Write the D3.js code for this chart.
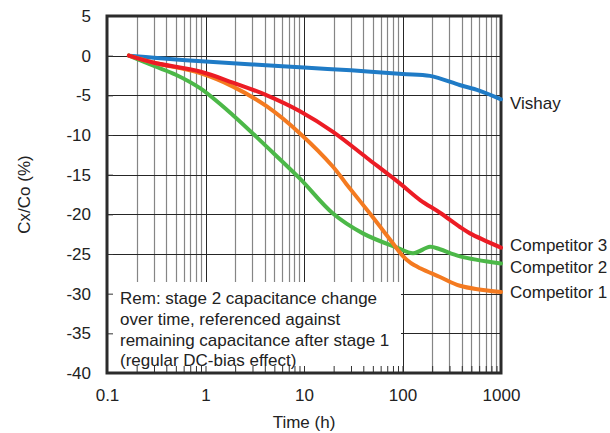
<!DOCTYPE html>
<html>
<head>
  <meta charset="utf-8">
  <title>Capacitance change over time</title>
  <script src="https://d3js.org/d3.v7.min.js"></script>
  <style>
    body { margin: 0; background: #fff; }
    text {
      font-family: "Liberation Sans", Arial, sans-serif;
      font-size: 17px;
      fill: #222;
    }
    .grid-minor { stroke: #858585; stroke-width: 1.2px; }
    .grid-major { stroke: #262626; stroke-width: 1px; }
    .series { fill: none; stroke-width: 4px; stroke-linejoin: round; stroke-linecap: round; }
  </style>
</head>
<body>
  <svg width="610" height="433"></svg>

  <script>
    // series data: [hours, Cx/Co %]
    const vishay = [[0.167, 0], [0.3, -0.25], [1, -0.75], [3, -1.1], [10, -1.5], [30, -1.85],
      [100, -2.3], [190, -2.55], [380, -3.7], [600, -4.4], [1000, -5.5]];
    const competitor3 = [[0.167, 0], [0.3, -0.9], [0.88, -2.0], [1.9, -3.4], [4.2, -5.0], [9.1, -7.0],
      [19.7, -9.6], [43.6, -12.9], [94, -16.1], [151, -18.2], [240, -19.8], [383, -21.6],
      [484, -22.4], [1000, -24.2]];
    const competitor2 = [[0.167, 0], [0.3, -1.3], [0.5, -2.4], [0.88, -4.1], [1.9, -7.5], [4.2, -11.5],
      [9.1, -15.5], [19.7, -19.9], [39.6, -22.4], [88, -24.2], [128, -24.9], [190, -24.1],
      [240, -24.4], [383, -25.3], [1000, -26.2]];
    const competitor1 = [[0.167, 0], [0.3, -0.9], [0.88, -2.2], [1.9, -3.9], [4.2, -6.4], [9.1, -9.8],
      [19.7, -14.0], [27, -16.2], [46.7, -19.9], [75, -23.2], [100, -25.2], [120, -26.1],
      [151, -26.8], [240, -27.9], [383, -29.0], [1000, -29.8]];

    const seriesNames = ["Vishay", "Competitor 2", "Competitor 1", "Competitor 3"];
    const seriesData = [vishay, competitor2, competitor1, competitor3];
    const seriesColors = ["#1f7bc6", "#4cb848", "#f47a20", "#ec1c24"];
    const labelValues = [-6, -26.6, -29.8, -23.9];

    const xTicks = [0.1, 1, 10, 100, 1000];
    const yTicks = [5, 0, -5, -10, -15, -20, -25, -30, -35, -40];
    const noteLines = [
      "Rem: stage 2 capacitance change",
      "over time, referenced against",
      "remaining capacitance after stage 1",
      "(regular DC-bias effect)"
    ];

    const margin = { left: 107, right: 109, top: 16, bottom: 60 };
    const width = 610, height = 433;
    const svg = d3.select("svg");

    const x = d3.scaleLog().domain([0.1, 1000]).range([margin.left, width - margin.right]);
    const y = d3.scaleLinear().domain([-40, 5]).range([height - margin.bottom, margin.top]);

    // minor log ticks (2..9 of each decade)
    const minorTicks = [];
    for (let d = 0.1; d < 1000; d *= 10) {
      for (let k = 2; k <= 9; k++) minorTicks.push(+(d * k).toPrecision(3));
    }

    // grid
    const grid = svg.append("g");
    grid.selectAll(".vminor").data(minorTicks).enter().append("line")
      .attr("class", "grid-minor")
      .attr("x1", d => Math.round(x(d)) + 0.5).attr("x2", d => Math.round(x(d)) + 0.5)
      .attr("y1", y(5)).attr("y2", y(-40));
    grid.selectAll(".vmajor").data(xTicks).enter().append("line")
      .attr("class", "grid-major")
      .attr("x1", d => Math.round(x(d)) + 0.5).attr("x2", d => Math.round(x(d)) + 0.5)
      .attr("y1", y(5)).attr("y2", y(-40));
    grid.selectAll(".hmajor").data(yTicks).enter().append("line")
      .attr("class", "grid-major")
      .attr("x1", x(0.1)).attr("x2", x(1000))
      .attr("y1", d => Math.round(y(d)) + 0.5).attr("y2", d => Math.round(y(d)) + 0.5);

    // note box
    svg.append("rect")
      .attr("x", x(0.1)).attr("y", 282)
      .attr("width", 401 - x(0.1)).attr("height", y(-40) - 282)
      .attr("fill", "#fff");

    svg.append("text")
      .selectAll("tspan").data(noteLines).enter().append("tspan")
      .attr("x", 120)
      .attr("y", (d, i) => 304 + i * 20.8)
      .text(d => d);

    // axes with inward ticks
    const xAxis = svg.append("g")
      .attr("transform", `translate(0,${y(-40)})`)
      .call(d3.axisBottom(x).tickValues(minorTicks.concat(xTicks)).tickSize(-7).tickPadding(16)
        .tickFormat(d => xTicks.includes(d) ? String(d) : ""));
    const yAxis = svg.append("g")
      .attr("transform", `translate(${x(0.1)},0)`)
      .call(d3.axisLeft(y).tickValues(yTicks).tickSize(-6).tickPadding(16)
        .tickFormat(d => String(d)));
    [xAxis, yAxis].forEach(a => {
      a.select(".domain").remove();
      a.selectAll("line").attr("stroke", "#333");
      a.selectAll("text").attr("font-size", null).attr("font-family", null).attr("fill", "#222");
    });

    // frame
    svg.append("rect")
      .attr("x", x(0.1)).attr("y", y(5))
      .attr("width", x(1000) - x(0.1)).attr("height", y(-40) - y(5))
      .attr("fill", "none").attr("stroke", "#2b2b2b").attr("stroke-width", 3);

    // series lines
    const line = d3.line()
      .x(d => x(d[0]))
      .y(d => y(d[1]))
      .curve(d3.curveCatmullRom.alpha(0.5));

    svg.selectAll(".series").data(seriesData).enter().append("path")
      .attr("class", "series")
      .attr("stroke", (d, i) => seriesColors[i])
      .attr("d", line);

    // series labels
    svg.selectAll(".slabel").data(seriesNames).enter().append("text")
      .attr("x", x(1000) + 9)
      .attr("y", (d, i) => y(labelValues[i]))
      .attr("dy", "0.35em")
      .text(d => d);

    // axis titles
    svg.append("text")
      .attr("x", (x(0.1) + x(1000)) / 2)
      .attr("y", 428)
      .attr("text-anchor", "middle")
      .text("Time (h)");

    svg.append("text")
      .attr("transform", `translate(30,${(y(5) + y(-40)) / 2}) rotate(-90)`)
      .attr("text-anchor", "middle")
      .text("Cx/Co (%)");
  </script>
</body>
</html>
